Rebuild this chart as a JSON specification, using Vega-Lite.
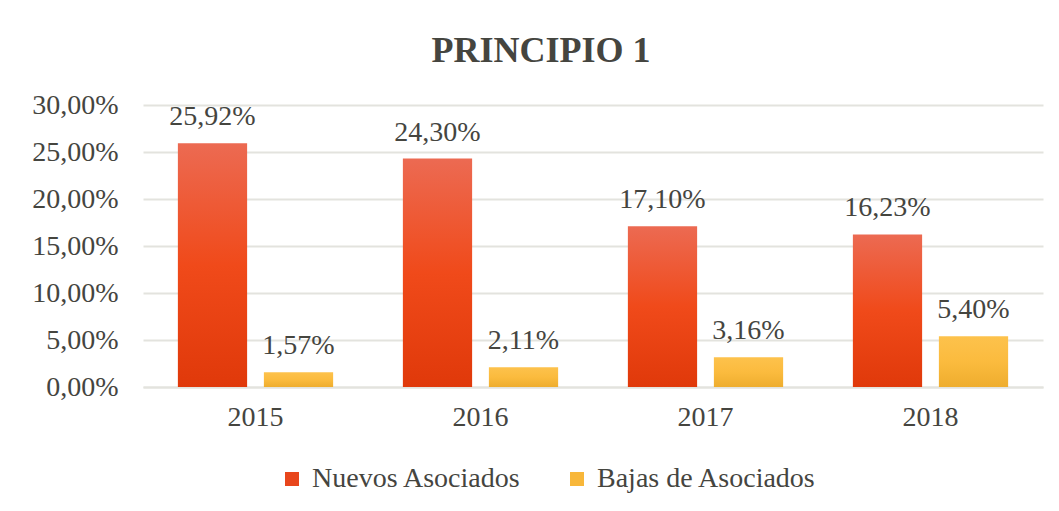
{
  "$schema": "https://vega.github.io/schema/vega-lite/v6.json",
  "autosize": {"type": "none"},
  "width": 900,
  "height": 282,
  "padding": {"left": 143, "top": 105, "right": 16, "bottom": 124},
  "background": "#ffffff",
  "config": {
    "locale": {"number": {"decimal": ",", "thousands": ".", "grouping": [3], "currency": ["", " €"], "percent": "%"}},
    "view": {"stroke": null},
    "font": "Liberation Serif"
  },
  "title": {
    "text": "PRINCIPIO 1",
    "font": "Liberation Serif",
    "fontSize": 36,
    "fontWeight": "bold",
    "color": "#45453f",
    "anchor": "middle",
    "dx": -52,
    "offset": 21
  },
  "data": {
    "values": [
      {"year": "2015", "serie": "Nuevos Asociados", "valor": 0.2592},
      {"year": "2015", "serie": "Bajas de Asociados", "valor": 0.0157},
      {"year": "2016", "serie": "Nuevos Asociados", "valor": 0.2430},
      {"year": "2016", "serie": "Bajas de Asociados", "valor": 0.0211},
      {"year": "2017", "serie": "Nuevos Asociados", "valor": 0.1710},
      {"year": "2017", "serie": "Bajas de Asociados", "valor": 0.0316},
      {"year": "2018", "serie": "Nuevos Asociados", "valor": 0.1623},
      {"year": "2018", "serie": "Bajas de Asociados", "valor": 0.0540}
    ]
  },
  "encoding": {
    "x": {
      "field": "year", "type": "nominal", "title": null,
      "scale": {"paddingInner": 0.31, "paddingOuter": 0.155},
      "axis": {"labelAngle": 0, "labelFontSize": 28, "labelColor": "#45453f", "labelFont": "Liberation Serif", "labelPadding": 16, "ticks": false, "domainColor": "#e3e3de", "domainWidth": 2}
    },
    "xOffset": {"field": "serie", "type": "nominal", "sort": ["Nuevos Asociados", "Bajas de Asociados"], "scale": {"domain": ["Nuevos Asociados", "Bajas de Asociados"], "paddingInner": 0.195, "paddingOuter": 0}},
    "y": {
      "field": "valor", "type": "quantitative", "title": null,
      "scale": {"domain": [0, 0.30], "nice": false},
      "axis": {"values": [0, 0.05, 0.10, 0.15, 0.20, 0.25, 0.30], "format": ".2%", "labelFontSize": 28, "labelColor": "#45453f", "labelFont": "Liberation Serif", "labelPadding": 25, "ticks": false, "domain": false, "gridColor": "#e3e3de", "gridWidth": 2}
    }
  },
  "layer": [
    {
      "mark": {"type": "bar", "opacity": 0},
      "encoding": {
        "color": {
          "field": "serie", "type": "nominal", "sort": ["Nuevos Asociados", "Bajas de Asociados"],
          "scale": {"domain": ["Nuevos Asociados", "Bajas de Asociados"], "range": ["#e8461c", "#f8b73a"]},
          "legend": {
            "title": null, "orient": "none", "legendX": 135, "legendY": 360, "direction": "horizontal",
            "symbolType": "square", "symbolSize": 196, "symbolStrokeWidth": 0, "symbolOpacity": 1,
            "labelFontSize": 28, "labelFont": "Liberation Serif", "labelColor": "#45453f", "labelLimit": 400,
            "columnPadding": 41, "labelOffset": 6
          }
        }
      }
    },
    {
      "transform": [{"filter": "datum.serie === 'Nuevos Asociados'"}],
      "mark": {"type": "bar", "color": {"gradient": "linear", "x1": 0, "y1": 0, "x2": 0, "y2": 1, "stops": [{"offset": 0, "color": "#ec6a52"}, {"offset": 0.5, "color": "#f04a1a"}, {"offset": 1, "color": "#e0390a"}]}}
    },
    {
      "transform": [{"filter": "datum.serie === 'Bajas de Asociados'"}],
      "mark": {"type": "bar", "color": {"gradient": "linear", "x1": 0, "y1": 0, "x2": 0, "y2": 1, "stops": [{"offset": 0, "color": "#fdc24c"}, {"offset": 0.5, "color": "#fbbb3e"}, {"offset": 1, "color": "#eead2e"}]}}
    },
    {
      "mark": {"type": "text", "baseline": "alphabetic", "dy": -18, "fontSize": 28, "font": "Liberation Serif", "color": "#45453f"},
      "encoding": {
        "text": {"field": "valor", "type": "quantitative", "format": ".2%"}
      }
    }
  ]
}
